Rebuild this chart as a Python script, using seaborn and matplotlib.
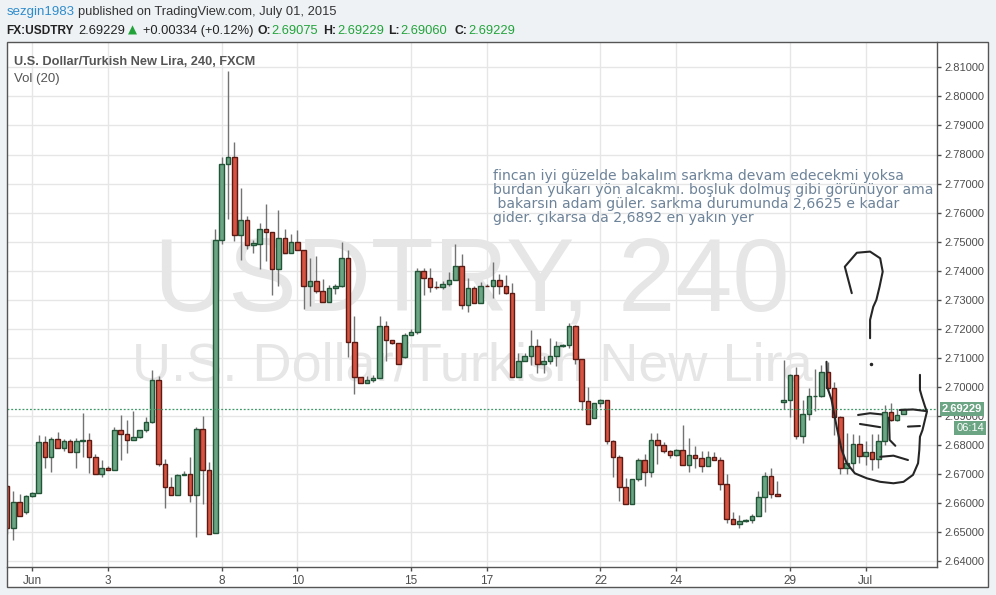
import numpy as np
import pandas as pd
import matplotlib
matplotlib.use('Agg')
import matplotlib.pyplot as plt
import matplotlib.transforms as mtransforms
from matplotlib.patches import Rectangle
import seaborn as sns

# FX:USDTRY 240 bars, bar 0 = Jun 1 00:00, first visible bar is -4
opens = [2.6660, 2.6515, 2.6604, 2.6569, 2.6625, 2.6635, 2.6811, 2.6759, 2.6821, 2.6790,
         2.6814, 2.6777, 2.6814, 2.6818, 2.6759, 2.6701, 2.6723, 2.6715, 2.6852, 2.6837,
         2.6818, 2.6828, 2.6852, 2.6880, 2.7024, 2.6735, 2.6656, 2.6629, 2.6697, 2.6700,
         2.6630, 2.6855, 2.6716, 2.6497, 2.7507, 2.7768, 2.7793, 2.7524, 2.7576, 2.7490,
         2.7493, 2.7542, 2.7535, 2.7406, 2.7514, 2.7462, 2.7500, 2.7473, 2.7349, 2.7366,
         2.7331, 2.7293, 2.7342, 2.7349, 2.7445, 2.7154, 2.7035, 2.7014, 2.7024, 2.7031,
         2.7210, 2.7162, 2.7152, 2.7102, 2.7179, 2.7190, 2.7400, 2.7376, 2.7345, 2.7345,
         2.7355, 2.7369, 2.7417, 2.7283, 2.7340, 2.7290, 2.7348, 2.7348, 2.7369, 2.7348,
         2.7324, 2.7035, 2.7090, 2.7107, 2.7142, 2.7079, 2.7090, 2.7107, 2.7141, 2.7146,
         2.7210, 2.7097, 2.6953, 2.6893, 2.6945, 2.6955, 2.6814, 2.6759, 2.6655, 2.6597,
         2.6682, 2.6748, 2.6709, 2.6817, 2.6800, 2.6779, 2.6766, 2.6783, 2.6731, 2.6766,
         2.6755, 2.6728, 2.6759, 2.6748, 2.6666, 2.6545, 2.6528, 2.6539, 2.6542, 2.6555,
         2.6621, 2.6693, 2.6631, 2.6950, 2.6955, 2.7040, 2.6831, 2.6907, 2.6969, 2.6970,
         2.7052, 2.6997, 2.6896, 2.6721, 2.6738, 2.6804, 2.6762, 2.6776, 2.6751, 2.6815,
         2.6915, 2.6886, 2.69075]
highs = [2.6664, 2.6643, 2.6632, 2.6630, 2.6639, 2.6836, 2.6833, 2.6829, 2.6847, 2.6822,
         2.6820, 2.6825, 2.6912, 2.6843, 2.6770, 2.6750, 2.6730, 2.6864, 2.6905, 2.6888,
         2.6919, 2.6852, 2.6898, 2.7059, 2.7039, 2.6752, 2.6692, 2.6701, 2.6711, 2.6760,
         2.6861, 2.6901, 2.6743, 2.7545, 2.7792, 2.8087, 2.7843, 2.7684, 2.7588, 2.7505,
         2.7566, 2.7629, 2.7535, 2.7608, 2.7545, 2.7528, 2.7539, 2.7473, 2.7443, 2.7450,
         2.7370, 2.7351, 2.7353, 2.7498, 2.7473, 2.7243, 2.7035, 2.7039, 2.7043, 2.7243,
         2.7227, 2.7162, 2.7152, 2.7186, 2.7200, 2.7410, 2.7410, 2.7410, 2.7366, 2.7364,
         2.7397, 2.7493, 2.7459, 2.7376, 2.7348, 2.7361, 2.7355, 2.7431, 2.7390, 2.7387,
         2.7359, 2.7117, 2.7117, 2.7197, 2.7166, 2.7107, 2.7169, 2.7160, 2.7148, 2.7222,
         2.7215, 2.7097, 2.7001, 2.6945, 2.6959, 2.6955, 2.6817, 2.6767, 2.6686, 2.6682,
         2.6755, 2.6769, 2.6843, 2.6843, 2.6810, 2.6783, 2.6786, 2.6869, 2.6824, 2.6797,
         2.6779, 2.6779, 2.6776, 2.6759, 2.6701, 2.6570, 2.6560, 2.6545, 2.6562, 2.6643,
         2.6709, 2.6723, 2.6677, 2.7093, 2.7045, 2.7069, 2.6955, 2.6997, 2.7063, 2.7075,
         2.7085, 2.7016, 2.6900, 2.6841, 2.6838, 2.6836, 2.6815, 2.6838, 2.6840, 2.6939,
         2.6946, 2.6924, 2.69229]
lows = [2.6494, 2.6474, 2.6555, 2.6565, 2.6621, 2.6635, 2.6720, 2.6707, 2.6790, 2.6779,
        2.6777, 2.6720, 2.6758, 2.6703, 2.6701, 2.6689, 2.6715, 2.6715, 2.6748, 2.6772,
        2.6818, 2.6825, 2.6845, 2.6875, 2.6730, 2.6583, 2.6629, 2.6629, 2.6697, 2.6605,
        2.6484, 2.6599, 2.6496, 2.6497, 2.7493, 2.7578, 2.7501, 2.7436, 2.7474, 2.7461,
        2.7405, 2.7432, 2.7316, 2.7346, 2.7462, 2.7462, 2.7473, 2.7269, 2.7278, 2.7324,
        2.7293, 2.7293, 2.7321, 2.7344, 2.7103, 2.6976, 2.7014, 2.7014, 2.7017, 2.7031,
        2.7089, 2.7148, 2.7079, 2.7099, 2.7179, 2.7183, 2.7316, 2.7328, 2.7338, 2.7338,
        2.7348, 2.7369, 2.7269, 2.7259, 2.7290, 2.7290, 2.7347, 2.7306, 2.7321, 2.7321,
        2.7035, 2.7035, 2.7090, 2.7076, 2.7048, 2.7048, 2.7079, 2.7073, 2.7137, 2.7135,
        2.7079, 2.6921, 2.6873, 2.6893, 2.6930, 2.6804, 2.6692, 2.6608, 2.6597, 2.6597,
        2.6677, 2.6658, 2.6691, 2.6734, 2.6773, 2.6755, 2.6762, 2.6731, 2.6709, 2.6720,
        2.6709, 2.6728, 2.6748, 2.6645, 2.6531, 2.6528, 2.6516, 2.6535, 2.6532, 2.6555,
        2.6569, 2.6620, 2.6624, 2.6924, 2.6897, 2.6821, 2.6806, 2.6885, 2.6916, 2.6966,
        2.6987, 2.6836, 2.6700, 2.6702, 2.6712, 2.6739, 2.6732, 2.6714, 2.6723, 2.6801,
        2.6884, 2.6884, 2.69060]
closes = [2.6514, 2.6604, 2.6556, 2.6625, 2.6635, 2.6811, 2.6759, 2.6821, 2.6790, 2.6814,
          2.6777, 2.6814, 2.6818, 2.6759, 2.6701, 2.6721, 2.6715, 2.6852, 2.6837, 2.6818,
          2.6828, 2.6852, 2.6880, 2.7024, 2.6735, 2.6656, 2.6629, 2.6697, 2.6701, 2.6630,
          2.6855, 2.6716, 2.6496, 2.7507, 2.7769, 2.7793, 2.7524, 2.7576, 2.7490, 2.7496,
          2.7542, 2.7535, 2.7406, 2.7514, 2.7462, 2.7500, 2.7473, 2.7349, 2.7366, 2.7331,
          2.7293, 2.7342, 2.7349, 2.7445, 2.7154, 2.7035, 2.7014, 2.7024, 2.7031, 2.7210,
          2.7162, 2.7152, 2.7079, 2.7179, 2.7190, 2.7400, 2.7376, 2.7345, 2.7343, 2.7355,
          2.7369, 2.7417, 2.7283, 2.7340, 2.7290, 2.7348, 2.7347, 2.7369, 2.7348, 2.7324,
          2.7035, 2.7090, 2.7107, 2.7142, 2.7079, 2.7090, 2.7107, 2.7141, 2.7146, 2.7210,
          2.7097, 2.6953, 2.6873, 2.6945, 2.6955, 2.6814, 2.6759, 2.6655, 2.6597, 2.6682,
          2.6748, 2.6709, 2.6817, 2.6800, 2.6779, 2.6766, 2.6783, 2.6731, 2.6766, 2.6755,
          2.6728, 2.6759, 2.6748, 2.6666, 2.6545, 2.6528, 2.6539, 2.6542, 2.6555, 2.6621,
          2.6693, 2.6631, 2.6624, 2.6956, 2.7040, 2.6831, 2.6907, 2.6969, 2.6970, 2.7052,
          2.6997, 2.6896, 2.6721, 2.6738, 2.6804, 2.6762, 2.6776, 2.6751, 2.6815, 2.6915,
          2.6886, 2.6904, 2.69229]

tick_bars = [0, 12, 30, 42, 60, 72, 90, 102, 120, 132]
tick_labels = ['Jun', '3', '8', '10', '15', '17', '22', '24', '29', 'Jul']
price_ticks = [2.64, 2.65, 2.66, 2.67, 2.68, 2.69, 2.70, 2.71, 2.72,
               2.73, 2.74, 2.75, 2.76, 2.77, 2.78, 2.79, 2.80, 2.81]
last_price = 2.69229

note_lines = ['fincan iyi güzelde bakalım sarkma devam edecekmi yoksa',
              'burdan yukarı yön alcakmı. boşluk dolmuş gibi görünüyor ama',
              ' bakarsın adam güler. sarkma durumunda 2,6625 e kadar',
              'gider. çıkarsa da 2,6892 en yakın yer']

# hand drawn doodle (bar, price)
qmark_x = [129.8, 128.7, 130.6, 132.7, 134.3, 134.7, 134.2, 133.7, 133.2, 132.7, 132.7]
qmark_y = [2.7323, 2.7414, 2.7462, 2.7466, 2.7443, 2.7397, 2.7345, 2.7300, 2.7276, 2.7231, 2.7168]
qdot = (132.8, 2.7079)
face_x = [125.8, 125.9, 126.6, 127.4, 128.2, 129.0, 130.3, 132.2, 134.3, 136.4, 138.0,
          139.5, 140.3, 140.5, 140.6, 141.0, 141.7, 141.4, 140.9, 140.6, 140.6]
face_y = [2.7087, 2.7001, 2.6956, 2.6864, 2.6784, 2.6738, 2.6703, 2.6686, 2.6674, 2.6669, 2.6674,
          2.6698, 2.6738, 2.6784, 2.6829, 2.6852, 2.6915, 2.6933, 2.6967, 2.6990, 2.7042]
strokes = [
    ([130.8, 132.7, 134.5], [2.6904, 2.6910, 2.6906]),   # brow
    ([137.4, 139.5, 141.7], [2.6921, 2.6923, 2.6917]),   # top right
    ([131.1, 134.3], [2.6873, 2.6862]),                  # left eye
    ([138.7, 140.6], [2.6864, 2.6866]),                  # right eye
    ([135.7, 135.8, 136.7], [2.6895, 2.6818, 2.6798]),   # nose
    ([134.3, 136.4, 138.7], [2.6760, 2.6764, 2.6749]),   # mouth
]

df = pd.DataFrame({'open': opens, 'high': highs, 'low': lows, 'close': closes})
df['bar'] = np.arange(-4, -4 + len(df))
df['up'] = df['close'] >= df['open']

sns.set_style('white')
plt.rcParams['font.family'] = ['Liberation Sans', 'DejaVu Sans']

W, H = 996, 595
UP, UP_EDGE = '#6ba583', '#225437'
DN, DN_EDGE = '#d75442', '#5b1a13'
GREEN_TXT = '#22a33a'
AXIS_TXT = '#4d4d4d'

fig = plt.figure(figsize=(W / 100, H / 100), dpi=100, facecolor='#eef2f5')

def fx(x):
    return x / W

def fy(y):
    return 1 - y / H

# chart frame
fig.patches.append(Rectangle((fx(7), fy(587)), fx(988) - fx(7), fy(42) - fy(587),
                             transform=fig.transFigure, facecolor='white',
                             edgecolor='none', zorder=-1))
fig.patches.append(Rectangle((fx(7), fy(587)), fx(988) - fx(7), fy(42) - fy(587),
                             transform=fig.transFigure, facecolor='none',
                             edgecolor='#555555', lw=1, zorder=10))

ax = fig.add_axes([fx(7), fy(567), fx(937) - fx(7), fy(42) - fy(567)])
ax.set_facecolor('none')
ax.set_xlim(-4.0, 143.3)
ax.set_ylim(2.6381, 2.8187)

ax.set_yticks(price_ticks)
ax.set_yticklabels([f'{p:.5f}' for p in price_ticks])
ax.set_xticks(tick_bars)
ax.set_xticklabels(tick_labels)
ax.yaxis.tick_right()
ax.tick_params(axis='y', right=True, left=False, length=3, width=1, pad=2,
               color=AXIS_TXT, labelcolor=AXIS_TXT, labelsize=8)
ax.tick_params(axis='x', bottom=True, length=3, width=1, pad=3,
               color=AXIS_TXT, labelcolor=AXIS_TXT, labelsize=8.5)
ax.grid(True, color='#e6e6e6', lw=1)
ax.set_axisbelow(True)
for s in ['left', 'top']:
    ax.spines[s].set_visible(False)
for s in ['right', 'bottom']:
    ax.spines[s].set_color('#555555')
    ax.spines[s].set_linewidth(1)

# watermark
ax.text(0.5, 0.4895, 'USDTRY, 240', transform=ax.transAxes, ha='center', va='baseline',
        fontsize=74, color='#e6e6e6', zorder=1)
ax.text(0.5, 0.356, 'U.S. Dollar/Turkish New Lira', transform=ax.transAxes, ha='center',
        va='baseline', fontsize=39, color='#e6e6e6', zorder=1)

# candles
ax.vlines(df['bar'], df['low'], df['high'], color='#737373', lw=1, zorder=2)
for up, fc, ec in [(True, UP, UP_EDGE), (False, DN, DN_EDGE)]:
    d = df[df['up'] == up]
    ax.bar(d['bar'], (d['close'] - d['open']).abs(), bottom=d[['open', 'close']].min(axis=1),
           width=0.72, color=fc, edgecolor=ec, lw=1, zorder=3)

ax.axhline(last_price, color='#3d9a66', ls=(0, (1.5, 1.5)), lw=0.9, zorder=4)

# doodle
ink = dict(color='#262626', lw=1.5, solid_capstyle='round', solid_joinstyle='round', zorder=5)
ax.plot(qmark_x, qmark_y, **ink)
ax.plot([qdot[0]], [qdot[1]], marker='o', ms=1.5, color='#262626', zorder=5)
ax.plot(face_x, face_y, **ink)
for sx, sy in strokes:
    ax.plot(sx, sy, **ink)

# price labels on the axis
blend = mtransforms.blended_transform_factory(ax.transAxes, ax.transData)
ax.annotate(f'{last_price:.5f}', xy=(1, last_price), xycoords=blend, xytext=(25, 0),
            textcoords='offset pixels', ha='center', va='center', color='white',
            fontsize=8, fontweight='bold', annotation_clip=False,
            bbox=dict(boxstyle='square,pad=0.18', fc='#6ba583', ec='none'))
ax.annotate('06:14', xy=(1, last_price), xycoords=blend, xytext=(33, -18.5),
            textcoords='offset pixels', ha='center', va='center', color='white',
            fontsize=8, annotation_clip=False,
            bbox=dict(boxstyle='square,pad=0.18', fc='#6ba583', ec='none'))

# note
for k, line in enumerate(note_lines):
    fig.text(fx(493), fy(180 + 14.1 * k), line, fontsize=10.1, color='#6d8399',
             family='DejaVu Sans', va='baseline')

# pane titles
fig.text(fx(14), fy(65), 'U.S. Dollar/Turkish New Lira, 240, FXCM', fontsize=9.2,
         fontweight='bold', color='#555555', va='baseline')
fig.text(fx(14), fy(82), 'Vol (20)', fontsize=9.5, color='#555555', va='baseline')

# header
fig.text(fx(6.5), fy(15), 'sezgin1983', fontsize=9.5, color='#2f8ccc', va='baseline')
fig.text(fx(78), fy(15), 'published on TradingView.com, July 01, 2015', fontsize=9.3,
         color='#333333', va='baseline')
hdr = [(6.5, 'FX:USDTRY', 'bold', '#222222', 8.6),
       (78, '2.69229', 'normal', '#222222', 9.3),
       (143, '+0.00334 (+0.12%)', 'normal', '#222222', 9.3),
       (257, 'O:', 'bold', '#222222', 8.8), (271, '2.69075', 'normal', GREEN_TXT, 9.3),
       (323, 'H:', 'bold', '#222222', 8.8), (337, '2.69229', 'normal', GREEN_TXT, 9.3),
       (388, 'L:', 'bold', '#222222', 8.8), (400, '2.69060', 'normal', GREEN_TXT, 9.3),
       (454, 'C:', 'bold', '#222222', 8.8), (468, '2.69229', 'normal', GREEN_TXT, 9.3)]
for x, s, w, c, fs in hdr:
    fig.text(fx(x), fy(34), s, fontsize=fs, fontweight=w, color=c, va='baseline')
fig.text(fx(128), fy(34), '▲', fontsize=8.5, color=GREEN_TXT, va='baseline',
         family='DejaVu Sans')

fig.savefig('out.png', dpi=100, facecolor=fig.get_facecolor())
